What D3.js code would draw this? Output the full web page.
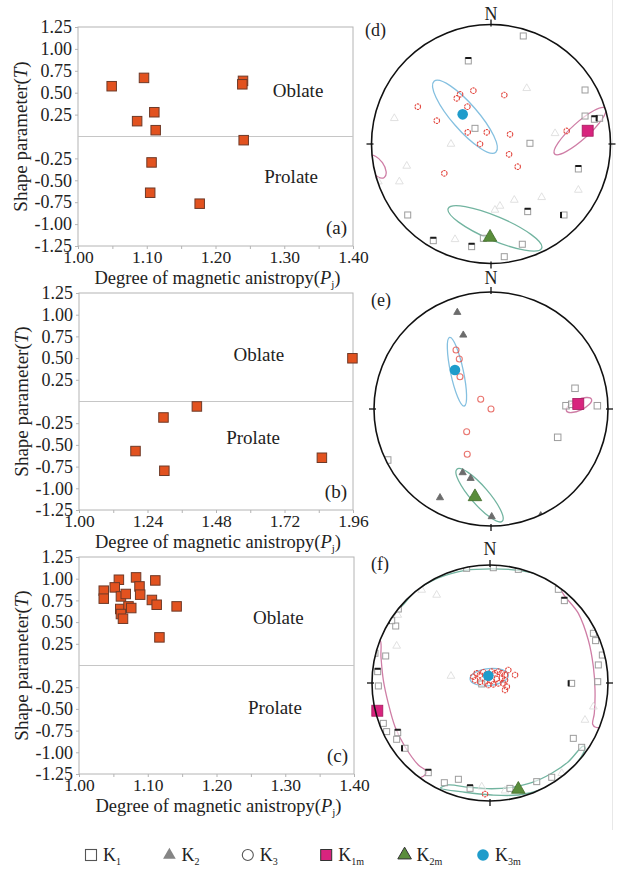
<!DOCTYPE html>
<html lang="en">
<head>
<meta charset="utf-8">
<title>AMS scatter plots and stereonets</title>
<style>
  body { margin: 0; background: #fff; }
  text { font-family: "Liberation Serif", "Times New Roman", serif; fill: #222; }
</style>
</head>
<body>
<script src="https://d3js.org/d3.v7.min.js"></script>
<script>
// ---------- scatter data: Pj (x) and T (y) ----------
var pjA = [1.049, 1.096, 1.111, 1.086, 1.113, 1.240, 1.239, 1.241, 1.107, 1.105, 1.177];
var tA  = [0.574, 0.669, 0.277, 0.175, 0.072, 0.635, 0.596, -0.042, -0.296, -0.642, -0.767];

var pjB = [1.958, 1.413, 1.296, 1.198, 1.299, 1.851];
var tB  = [0.498, -0.057, -0.184, -0.571, -0.798, -0.648];

var pjC = [1.058, 1.083, 1.111, 1.036, 1.036, 1.052, 1.088, 1.089, 1.061, 1.068,
           1.106, 1.113, 1.142, 1.060, 1.072, 1.076, 1.061, 1.064, 1.117];
var tC  = [0.988, 1.015, 0.980, 0.862, 0.770, 0.900, 0.911, 0.816, 0.796, 0.824,
           0.755, 0.700, 0.681, 0.651, 0.681, 0.662, 0.593, 0.539, 0.324];

var yTickVals = [1.25, 1.00, 0.75, 0.50, 0.25, -0.25, -0.50, -0.75, -1.00, -1.25];
var xTicksAC = [1.00, 1.10, 1.20, 1.30, 1.40];
var xTicksB  = [1.00, 1.24, 1.48, 1.72, 1.96];

// ---------- stereonet data, unit-circle coords [east, north] ----------
var k1D = [[0.270,0.904],[0.787,0.452],[0.787,0.234],[0.326,0.006],[-0.134,0.131],[-0.697,-0.594],
           [-0.064,-0.789],[0.262,-0.839],[0.111,-0.943]];
var k1DBold = [[-0.190,0.695],[0.865,0.207],[0.909,0.215],[0.731,-0.209],[0.307,-0.566],[0.611,-0.594],
               [-0.483,-0.809],[-0.162,-0.859]];
var k2D = [[0.299,0.466],[-0.809,0.215],[-0.335,0.0],[-0.705,-0.184],[-0.767,-0.315],[0.536,0.089],
           [0.195,-0.469],[0.075,-0.519],[0.033,-0.552],[0.424,-0.446],[0.731,-0.385],[-0.301,-0.798],
           [-0.943,-0.315]];
var k3D = [[-0.148,0.446],[-0.259,0.416],[-0.287,0.382],[0.111,0.410],[-0.613,0.312],[-0.198,0.312],
           [-0.454,0.195],[-0.195,0.098],[-0.036,0.098],[-0.092,0.0],[0.159,0.081],[0.151,-0.086],
           [0.223,-0.190],[-0.391,-0.245],[0.633,0.109]];
var meanD = {k1m: [0.809,0.111], k2m: [-0.008,-0.781], k3m: [-0.237,0.248]};
var ellD = [
  {key:'k3m', u:-0.218, v:0.228, a:0.394, b:0.109, rot:49},
  {key:'k1m', u:0.745, v:0.108, a:0.286, b:0.070, rot:-42},
  {key:'k1m', u:-0.956, v:-0.19, a:0.11, b:0.058, rot:55},
  {key:'k2m', u:0.033, v:-0.706, a:0.425, b:0.100, rot:23}
];

var k1E = [[0.718,0.177],[0.641,0.028],[0.690,0.040],[0.909,0.028],[0.570,-0.242],[-0.883,-0.436]];
var k1EBold = [];
var k2E = [[-0.288,0.826],[-0.237,0.632],[-0.242,-0.544],[-0.174,-0.593],[-0.436,-0.758],[0.006,-0.920],
           [0.425,-0.912]];
var k3E = [[-0.299,0.504],[-0.271,0.427],[-0.265,0.276],[-0.088,0.083],[0.0,0.0],[-0.208,-0.194],
           [-0.203,-0.387]];
var meanE = {k1m: [0.746,0.043], k2m: [-0.137,-0.750], k3m: [-0.308,0.333]};
var ellE = [
  {key:'k3m', u:-0.291, v:0.319, a:0.300, b:0.055, rot:78},
  {key:'k1m', u:0.752, v:0.034, a:0.118, b:0.045, rot:-25},
  {key:'k2m', u:-0.098, v:-0.737, a:0.295, b:0.077, rot:49}
];

var k1F = [[-0.198,0.972],[0.028,0.977],[0.579,0.794],[0.876,0.421],[0.895,0.359],[0.952,0.237],
           [0.918,0.153],[0.913,0.011],[0.706,-0.469],[0.777,-0.545],[0.523,-0.799],[0.396,-0.836],
           [0.169,-0.893],[-0.268,-0.816],[-0.387,-0.845],[-0.791,-0.477],[-0.876,-0.412],[-0.904,-0.342],
           [-0.946,-0.025],[-0.975,0.252],[-0.884,0.229],[-0.799,0.483],[-0.070,-0.008]];
var k1FBold = [[0.240,0.963],[0.630,0.698],[0.692,-0.003],[-0.169,-0.893],[-0.523,-0.760],[-0.720,-0.553],
               [-0.782,-0.421],[-0.952,0.096],[-0.833,0.528],[-0.777,0.627]];
var k2F = [[-0.452,0.746],[-0.791,0.314],[-0.331,0.059],[0.876,-0.201],[0.884,0.449],[-0.070,-0.879],
           [0.127,-0.913],[-0.579,0.788],[0.805,-0.314],[0.608,-0.765],[-0.782,0.576]];
var k3F = [[-0.142,0.053],[-0.113,0.082],[-0.085,0.068],[-0.057,0.091],[-0.028,0.074],[0.014,0.096],
           [0.042,0.082],[0.070,0.096],[0.099,0.082],[-0.127,0.025],[-0.085,0.011],[-0.042,0.006],
           [0.014,0.017],[0.057,0.034],[0.099,0.045],[0.127,0.068],[0.127,0.025],[-0.014,-0.017],
           [0.028,-0.011],[0.070,-0.003],[0.113,-0.003],[0.142,-0.031],[0.127,-0.059],[0.212,0.068],
           [0.155,0.110],[-0.042,-0.941]];
var meanF = {k1m: [-0.955,-0.235], k2m: [0.240,-0.901], k3m: [-0.014,0.062]};
var ellF = [
  {key:'k3m', u:-0.007, v:0.050, a:0.163, b:0.072, rot:-6}
];
// confidence regions that wrap round the primitive circle, as outlines
var outlineF = [
  {key:'k1m', pts:[[-0.932,0.364],[-0.924,0.223],[-0.904,0.025],[-0.862,-0.172],[-0.805,-0.370],[-0.720,-0.540],
                   [-0.607,-0.695],[-0.537,-0.751],[-0.565,-0.790],[-0.675,-0.804],[-0.860,-0.602],[-0.987,-0.359],
                   [-1.046,-0.092],[-1.034,0.182],[-0.987,0.380]]},
  {key:'k1m', pts:[[0.607,0.788],[0.749,0.590],[0.833,0.364],[0.876,0.138],[0.890,-0.059],[0.884,-0.257],
                   [0.870,-0.350],[0.895,-0.375],[0.987,-0.359],[1.05,0.0],[0.987,0.359],[0.804,0.675],[0.646,0.827]]},
  {key:'k2m', pts:[[-0.777,0.633],[-0.636,0.775],[-0.438,0.890],[-0.212,0.955],[0.014,0.968],[0.240,0.955],
                   [0.438,0.915],[0.565,0.865],[0.680,0.800],[0.700,0.80],[0.760,0.800],[0.500,1.00],[0.0,1.08],
                   [-0.500,1.00],[-0.850,0.700]]},
  {key:'k2m', pts:[[0.791,-0.534],[0.664,-0.667],[0.523,-0.765],[0.353,-0.845],[0.184,-0.884],[0.014,-0.896],
                   [-0.184,-0.884],[-0.353,-0.864],[-0.420,-0.890],[-0.212,-0.926],[0.014,-0.949],[0.240,-0.949],
                   [0.438,-0.901],[0.636,-0.799],[0.805,-0.553]]}
];

var legendKeys = ['K1', 'K2', 'K3', 'K1m', 'K2m', 'K3m'];

var colors = {k1m: '#d8247e', k2m: '#5a8d3b', k3m: '#1f9ccb',
              ell1: '#cf7ea6', ell2: '#72b4a0', ell3: '#85c0e0', k3: '#e2473f'};
var ellColor = {k1m: colors.ell1, k2m: colors.ell2, k3m: colors.ell3};

var W = 619, H = 876;
var svg = d3.select('body').append('svg').attr('width', W).attr('height', H);
svg.append('rect').attr('width', W).attr('height', H).attr('fill', '#fff');
svg.append('line').attr('x1', 612.5).attr('x2', 612.5).attr('y1', 0).attr('y2', 830)
  .attr('stroke', '#e8e8e8');

var fmt = function(d) { return d.toFixed(2); };

function scatter(p) {
  var x = d3.scaleLinear().domain([p.xTicks[0], p.xTicks[p.xTicks.length - 1]]).range([p.left, p.right]);
  var y = d3.scaleLinear().domain([-1.25, 1.25]).range([p.bottom, p.top]);
  var g = svg.append('g');

  g.append('rect')
    .attr('x', p.left).attr('y', p.top)
    .attr('width', p.right - p.left).attr('height', p.bottom - p.top)
    .attr('fill', 'none').attr('stroke', '#b4b4b4');
  g.append('line')
    .attr('x1', p.left).attr('x2', p.right).attr('y1', y(0)).attr('y2', y(0))
    .attr('stroke', '#c6c6c6');

  // minor ticks between labels
  var step = (p.xTicks[1] - p.xTicks[0]) / 2;
  var minor = d3.range(p.xTicks[0], p.xTicks[p.xTicks.length - 1] + step / 2, step);
  var xa = g.append('g').attr('transform', 'translate(0,' + p.bottom + ')')
    .call(d3.axisBottom(x).tickValues(minor).tickSize(3).tickPadding(2)
      .tickFormat(function(d) {
        return p.xTicks.some(function(t) { return Math.abs(t - d) < 1e-6; }) ? fmt(d) : '';
      }));
  xa.select('.domain').remove();
  xa.selectAll('line').attr('stroke', '#b4b4b4');
  xa.selectAll('text').style('font-size', '17.5px').attr('fill', '#222')
    .style('font-family', '"Liberation Serif", serif');

  var ya = g.append('g').attr('transform', 'translate(' + p.left + ',0)')
    .call(d3.axisLeft(y).tickValues(yTickVals).tickSize(3).tickPadding(3).tickFormat(fmt));
  ya.select('.domain').remove();
  ya.selectAll('line').attr('stroke', '#b4b4b4');
  ya.selectAll('text').style('font-size', '18px').attr('fill', '#222')
    .style('font-family', '"Liberation Serif", serif');

  // points
  var s = 9.5;
  g.selectAll('rect.pt').data(p.xs).join('rect')
    .attr('class', 'pt')
    .attr('x', function(d) { return x(d) - s / 2; })
    .attr('y', function(d, i) { return y(p.ys[i]) - s / 2; })
    .attr('width', s).attr('height', s)
    .attr('fill', '#e2521f').attr('stroke', '#6e3a28').attr('stroke-width', 1);

  g.append('text').attr('x', x(p.oblate[0])).attr('y', y(p.oblate[1]))
    .attr('text-anchor', 'middle').attr('dy', '0.35em').style('font-size', '19px').text('Oblate');
  g.append('text').attr('x', x(p.prolate[0])).attr('y', y(p.prolate[1]))
    .attr('text-anchor', 'middle').attr('dy', '0.35em').style('font-size', '19px').text('Prolate');
  g.append('text').attr('x', p.right - 6).attr('y', p.bottom - 12)
    .attr('text-anchor', 'end').style('font-size', '19px').text(p.label);

  // axis titles
  var xt = g.append('text').attr('x', (p.left + p.right) / 2 + 2).attr('y', p.bottom + 37.5)
    .attr('text-anchor', 'middle').style('font-size', '18.5px');
  xt.append('tspan').text('Degree of magnetic anistropy(');
  xt.append('tspan').style('font-style', 'italic').text('P');
  xt.append('tspan').attr('dy', 4).style('font-size', '11px').text('j');
  xt.append('tspan').attr('dy', -4).text(')');

  var yt = g.append('text')
    .attr('transform', 'translate(' + (p.left - 51) + ',' + ((p.top + p.bottom) / 2) + ') rotate(-90)')
    .attr('text-anchor', 'middle').style('font-size', '19px');
  yt.append('tspan').text('Shape parameter(');
  yt.append('tspan').style('font-style', 'italic').text('T');
  yt.append('tspan').text(')');
}

scatter({left: 78, right: 353, top: 27, bottom: 246, xTicks: xTicksAC, xs: pjA, ys: tA,
         oblate: [1.32, 0.53], prolate: [1.31, -0.46], label: '(a)'});
scatter({left: 79, right: 353, top: 293, bottom: 510, xTicks: xTicksB, xs: pjB, ys: tB,
         oblate: [1.63, 0.54], prolate: [1.61, -0.41], label: '(b)'});
scatter({left: 79, right: 354, top: 557, bottom: 774, xTicks: xTicksAC, xs: pjC, ys: tC,
         oblate: [1.29, 0.56], prolate: [1.285, -0.48], label: '(c)'});

// ---------- stereonets ----------
var tri = d3.symbol().type(d3.symbolTriangle);

function stereonet(p) {
  var R = p.r;
  var x = d3.scaleLinear().domain([-1, 1]).range([p.cx - R, p.cx + R]);
  var y = d3.scaleLinear().domain([-1, 1]).range([p.cy + R, p.cy - R]);
  var g = svg.append('g');
  svg.append('clipPath').attr('id', 'clip-' + p.name)
    .append('circle').attr('cx', p.cx).attr('cy', p.cy).attr('r', R);
  var inner = g.append('g').attr('clip-path', 'url(#clip-' + p.name + ')');

  inner.selectAll('ellipse').data(p.ell).join('ellipse')
    .attr('rx', function(d) { return d.a * R; })
    .attr('ry', function(d) { return d.b * R; })
    .attr('transform', function(d) { return 'translate(' + x(d.u) + ',' + y(d.v) + ') rotate(' + d.rot + ')'; })
    .attr('fill', 'none').attr('stroke', function(d) { return ellColor[d.key]; }).attr('stroke-width', 1.3);

  var line = d3.line().x(function(d) { return x(d[0]); }).y(function(d) { return y(d[1]); })
    .curve(d3.curveCatmullRomClosed);
  inner.selectAll('path.outline').data(p.outlines || []).join('path')
    .attr('class', 'outline')
    .attr('d', function(d) { return line(d.pts); })
    .attr('fill', 'none').attr('stroke', function(d) { return ellColor[d.key]; }).attr('stroke-width', 1.3);

  // K2
  inner.selectAll('path.k2').data(p.k2).join('path')
    .attr('class', 'k2')
    .attr('d', tri.size(p.k2Filled ? 22 : 26))
    .attr('transform', function(d) { return 'translate(' + x(d[0]) + ',' + y(d[1]) + ')'; })
    .attr('fill', p.k2Filled ? '#6c6c6c' : 'none')
    .attr('stroke', p.k2Filled ? '#6c6c6c' : '#dedede').attr('stroke-width', 0.9);

  // K1
  var s = p.k1Size;
  var all1 = p.k1.concat(p.k1Bold);
  inner.selectAll('rect.k1').data(all1).join('rect')
    .attr('class', 'k1')
    .attr('x', function(d) { return x(d[0]) - s / 2; })
    .attr('y', function(d) { return y(d[1]) - s / 2; })
    .attr('width', s).attr('height', s)
    .attr('fill', '#fff').attr('fill-opacity', 0.6).attr('stroke', '#9c9c9c').attr('stroke-width', 1);
  inner.selectAll('line.k1b').data(p.k1Bold).join('line')
    .attr('class', 'k1b')
    .attr('x1', function(d, i) { return x(d[0]) - s / 2; })
    .attr('x2', function(d, i) { return i % 3 === 2 ? x(d[0]) - s / 2 : x(d[0]) + s / 2; })
    .attr('y1', function(d) { return y(d[1]) - s / 2; })
    .attr('y2', function(d, i) { return i % 3 === 2 ? y(d[1]) + s / 2 : y(d[1]) - s / 2; })
    .attr('stroke', '#1a1a1a').attr('stroke-width', 2);

  // K3
  inner.selectAll('circle.k3').data(p.k3).join('circle')
    .attr('class', 'k3')
    .attr('cx', function(d) { return x(d[0]); }).attr('cy', function(d) { return y(d[1]); })
    .attr('r', p.k3r).attr('fill', 'none').attr('stroke', colors.k3)
    .attr('stroke-width', 1.1).attr('stroke-dasharray', p.k3Dash ? '2.2,0.8' : null)
    .attr('stroke-opacity', p.k3Dash ? 1 : 0.75);

  // means
  var m = p.mean;
  g.append('rect')
    .attr('x', x(m.k1m[0]) - 5.5).attr('y', y(m.k1m[1]) - 5.5).attr('width', 11).attr('height', 11)
    .attr('fill', colors.k1m).attr('stroke', '#a51a5e').attr('stroke-width', 0.8);
  g.append('path').attr('d', tri.size(80))
    .attr('transform', 'translate(' + x(m.k2m[0]) + ',' + y(m.k2m[1]) + ')')
    .attr('fill', colors.k2m).attr('stroke', '#3f6a28').attr('stroke-width', 0.8);
  g.append('circle').attr('cx', x(m.k3m[0])).attr('cy', y(m.k3m[1])).attr('r', 5.3)
    .attr('fill', colors.k3m);

  // primitive circle and ticks
  g.append('circle').attr('cx', p.cx).attr('cy', p.cy).attr('r', R)
    .attr('fill', 'none').attr('stroke', '#111').attr('stroke-width', 1.6);
  [0, 90, 180, 270].forEach(function(a) {
    var r = a * Math.PI / 180;
    g.append('line')
      .attr('x1', p.cx + Math.sin(r) * (R - 2)).attr('y1', p.cy - Math.cos(r) * (R - 2))
      .attr('x2', p.cx + Math.sin(r) * (R + 5)).attr('y2', p.cy - Math.cos(r) * (R + 5))
      .attr('stroke', '#111').attr('stroke-width', 1.3);
  });
  g.append('text').attr('x', p.cx).attr('y', p.nY).attr('text-anchor', 'middle')
    .style('font-size', '18px').text('N');
  g.append('text').attr('x', p.labelX).attr('y', p.labelY).style('font-size', '18px').text(p.label);
}

stereonet({name: 'd', cx: 491, cy: 144, r: 119.5, ell: ellD, k1: k1D, k1Bold: k1DBold, k2: k2D, k3: k3D,
           mean: meanD, k1Size: 6, k3r: 2.8, k3Dash: true, k2Filled: false,
           nY: 19.5, label: '(d)', labelX: 365, labelY: 36});
stereonet({name: 'e', cx: 491, cy: 409, r: 117, ell: ellE, k1: k1E, k1Bold: k1EBold, k2: k2E, k3: k3E,
           mean: meanE, k1Size: 6.5, k3r: 3, k3Dash: false, k2Filled: true,
           nY: 283.5, label: '(e)', labelX: 371, labelY: 306});
stereonet({name: 'f', cx: 490, cy: 683, r: 118, ell: ellF, outlines: outlineF, k1: k1F, k1Bold: k1FBold,
           k2: k2F, k3: k3F, mean: meanF, k1Size: 6, k3r: 2.8, k3Dash: true, k2Filled: false,
           nY: 555, label: '(f)', labelX: 371, labelY: 570});

// ---------- legend ----------
var lx = d3.scalePoint().domain(legendKeys).range([91, 483]);
var ly = 855;
var lg = svg.append('g');
legendKeys.forEach(function(k) {
  var cx = lx(k);
  if (k === 'K1') {
    lg.append('rect').attr('x', cx - 5.5).attr('y', ly - 5.5).attr('width', 11).attr('height', 11)
      .attr('fill', '#fff').attr('stroke', '#555').attr('stroke-width', 1.1);
  } else if (k === 'K2') {
    lg.append('path').attr('d', tri.size(70)).attr('transform', 'translate(' + cx + ',' + ly + ')')
      .attr('fill', '#858585');
  } else if (k === 'K3') {
    lg.append('circle').attr('cx', cx).attr('cy', ly).attr('r', 5.5)
      .attr('fill', '#fff').attr('stroke', '#555').attr('stroke-width', 1.1);
  } else if (k === 'K1m') {
    lg.append('rect').attr('x', cx - 5.5).attr('y', ly - 5.5).attr('width', 11).attr('height', 11)
      .attr('fill', colors.k1m).attr('stroke', '#333').attr('stroke-width', 1);
  } else if (k === 'K2m') {
    lg.append('path').attr('d', tri.size(80)).attr('transform', 'translate(' + cx + ',' + ly + ')')
      .attr('fill', colors.k2m).attr('stroke', '#333').attr('stroke-width', 1);
  } else {
    lg.append('circle').attr('cx', cx).attr('cy', ly).attr('r', 5.8).attr('fill', colors.k3m);
  }
  var t = lg.append('text').attr('x', cx + 12).attr('y', ly + 6).style('font-size', '18px');
  t.append('tspan').text('K');
  t.append('tspan').attr('dy', 4).style('font-size', '10px').text(k.slice(1));
});
</script>
</body>
</html>
